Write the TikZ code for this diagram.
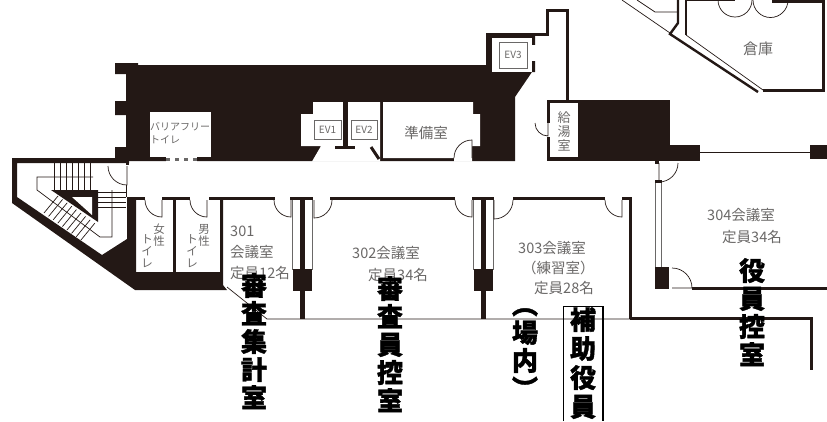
\documentclass[tikz,border=0pt]{standalone}
\usepackage{fontspec}
\newfontfamily\jpfont{Noto Sans CJK JP}
\newfontfamily\heavyfont[BoldFeatures={FakeBold=1.4}]{Noto Sans CJK JP}
\definecolor{planblack}{HTML}{231815}
\definecolor{plangray}{HTML}{6A6867}
\tikzset{wallfill/.style={fill=planblack,draw=none}}
\tikzset{wallline/.style={draw=planblack,line width=3pt}}
\tikzset{thinline/.style={draw=planblack,line width=0.7pt}}
\tikzset{grayline/.style={draw=plangray,line width=0.9pt}}
\tikzset{roomtext/.style={text=plangray,inner sep=0pt,font=\jpfont\fontsize{14.5}{21}\selectfont,align=left}}
\tikzset{smalltext/.style={text=plangray,inner sep=0pt,font=\jpfont\fontsize{10}{13}\selectfont,align=center}}
\tikzset{toilettext/.style={text=plangray,inner sep=0pt,anchor=north,align=center,font=\jpfont\fontsize{11.5}{12}\selectfont}}
\tikzset{evbox/.style={draw=plangray,fill=white,line width=0.9pt,text=plangray,inner sep=0pt,font=\jpfont\fontsize{10}{12}\selectfont}}
\tikzset{tatetext/.style={text=black,inner sep=0pt,anchor=north,align=center,font=\heavyfont\bfseries\fontsize{26}{28}\selectfont}}
\begin{document}
\begin{tikzpicture}[x=1pt,y=-1pt]
            \useasboundingbox (0,0) rectangle (827,421);
            % setup the black masses
            \fill[wallfill] (115,63) -- (138,63) -- (138,65) -- (486,65) -- (486,33) -- (535,33) -- (535,72) -- (532,72)
                -- (515,97) -- (515,161) -- (115,161) -- (115,147) -- (126,147) -- (126,115) -- (115,115) -- (115,101)
                -- (126,101) -- (126,74) -- (115,74) -- cycle;
            \fill[wallfill] (547,100) rectangle (670,161);
            \fill[wallfill] (670,145) rectangle (700,161);
            \fill[wallfill] (810,145) rectangle (827,159);
            \fill[wallfill] (12,158) -- (129,158) -- (129,163) -- (17,163) -- (17,197) -- (102,255) -- (127,239) -- (127,197)
                -- (136,197) -- (136,272) -- (220,272) -- (220,200) -- (223,200) -- (223,285) -- (227,290) -- (135,290)
                -- (12,203) -- cycle;
            % cut the rooms out of them
            \fill[white] (150,112) rectangle (211,157);
            \fill[white] (166,157) rectangle (197,161.5);
            \foreach \x in {166,175,184,193}
            {
                \fill[plangray] (\x,158) rectangle ++(4,3);
            }
            \fill[white] (301,146) -- (301,114) -- (313,114) -- (313,102) -- (380,102) -- (380,161.5) -- (312,161.5) -- (321,146) -- cycle;
            \fill[white] (383,102) -- (473,102) -- (473,114) -- (480,114) -- (480,146) -- (472,146) -- (472,161.5) -- (454,161.5) -- (454,158) -- (383,158) -- cycle;
            \fill[white] (492,38) rectangle (532,72);
            \fill[white] (532,45) rectangle (536,61);
            \fill[white] (550,103) rectangle (578,157);
            \fill[white] (546,123) rectangle (551,137);
            % lift shafts
            \fill[wallfill] (343,102) rectangle (348,146);
            \fill[wallfill] (335,146) rectangle (355,149);
            \draw[wallline] (371,147) -- (379,159);
            \node[evbox,minimum width=27pt,minimum height=19pt] (ev1) at (327.5,129.5) {EV1};
            \node[evbox,minimum width=26pt,minimum height=19pt] (ev2) at (364,129.5) {EV2};
            \node[evbox,minimum width=28pt,minimum height=26pt] (ev3) at (513,55) {EV3};
            % outer walls
            \draw[wallline] (486,34) -- (547,34) -- (547,10) -- (567,10) -- (567,100);
            \draw[planblack,line width=1pt] (700,152) -- (810,152);
            \fill[wallfill] (126,161) rectangle (129,165);
            % corridor walls
            \foreach \ax/\bx in {127/145,162/190,209/275,290/313,330/455,472/494,513/605,622/632}
            {
                \draw[wallline] (\ax,198.5) -- (\bx,198.5);
            }
            \draw[wallline] (174.5,200) -- (174.5,272);
            \draw[wallline] (630,197) -- (630,319);
            \draw[wallline] (630,318.5) -- (811.5,318.5) -- (811.5,370);
            \draw[wallline] (692,288.5) -- (827,288.5);
            \draw[thinline] (227,287) -- (267,319) -- (630,319);
            % partitions between the rooms
            \foreach \px in {0,181}
            {
                \draw[grayline] (292+\px,200) -- (292+\px,270);
                \draw[grayline] (312+\px,200) -- (312+\px,270);
                \draw[planblack,line width=4.5pt] (302.5+\px,197) -- (302.5+\px,319);
                \fill[wallfill] (293+\px,269) rectangle (312+\px,291);
            }
            \draw[grayline] (655.5,182) -- (655.5,269);
            \draw[grayline] (661.5,182) -- (661.5,269);
            \fill[wallfill] (655,180) rectangle (662,183);
            \fill[wallfill] (655,267) rectangle (669,289);
            \fill[wallfill] (655,160) rectangle (659,164);
            % doors
            \foreach \sx/\sy/\sa/\ea/\r/\hx/\hy in {145/200/180/90/17/162/200,190/200/180/90/17/207/200,274/200/180/90/17/291/200,
                332/200/0/90/18/314/200,455/200/180/90/17/472/200,513/200/0/90/19/494/200,605/200/180/90/17/622/200,
                454/158/180/270/18/472/158,108/166/180/90/19/127/166,535/123/180/90/13/548/123,678/163/0/90/19/659/163,672/268/270/360/20/672/288}
            {
                \draw[thinline] (\sx,\sy) arc[start angle=\sa,end angle=\ea,radius=\r] -- (\hx,\hy);
            }
            % staircase
            \fill[wallfill] (51,190) -- (98,190) -- (98,222) -- cycle;
            \fill[white] (72,197) -- (92,197) -- (92,215) -- cycle;
            \foreach \x in {54,60,...,93}
            {
                \draw[thinline] (\x,163) -- (\x,190);
            }
            \foreach \y in {192,197,202,207}
            {
                \draw[thinline] (98,\y) -- (126,\y);
            }
            \foreach \i in {0,...,8}
            {
                \draw[thinline] (58+\i*4.6,196+\i*3.4) -- (44+\i*4.6,213+\i*3.4);
            }
            \draw[thinline] (93,177) -- (37,177) -- (37,190) -- (100,237) -- (112,237) -- (112,190);
            \draw[thinline] (126,185) -- (126,197);
            % store room at the top
            \draw[wallline] (772,1) -- (823.5,1) -- (823.5,90.5) -- (763,90.5);
            \draw[planblack,line width=2.4pt] (686,0) -- (686,35);
            \draw[planblack,line width=1.5pt] (686,0.7) -- (735,0.7);
            \draw[planblack,line width=2.4pt] (678,0) -- (678,23) -- (670,34) -- (758,92);
            \draw[thinline] (686,35) -- (763,90);
            \draw[thinline] (622,0) -- (670,33);
            \draw[thinline] (637,0) -- (655,12) -- (678,12);
            \draw[thinline] (718,0) arc[start angle=180,end angle=0,radius=17];
            \draw[thinline] (753,0) arc[start angle=180,end angle=0,radius=17.5];
            % room names
            \node[smalltext,anchor=north west,align=left] (barrierfree) at (150,122) {バリアフリー\\トイレ};
            \node[roomtext] (junbi) at (426,133) {準備室};
            \node[roomtext,anchor=north,font=\jpfont\fontsize{13}{14}\selectfont,align=center] (kyuto) at (564,111) {給\\湯\\室};
            \node[roomtext,font=\jpfont\fontsize{15}{15}\selectfont] (soko) at (758,49) {倉庫};
            \node[toilettext] (women) at (159,224) {女\\性};
            \node[toilettext] (womenwc) at (147,234) {ト\\イ\\レ};
            \node[toilettext] (men) at (204,224) {男\\性};
            \node[toilettext] (menwc) at (192,234) {ト\\イ\\レ};
            \node[roomtext,anchor=north west] (room301) at (230,226) {301\\会議室\\定員12名};
            \node[roomtext,anchor=west] (room302) at (352,253) {302会議室};
            \node[roomtext,anchor=west] (seat302) at (368,275) {定員34名};
            \node[roomtext,anchor=west] (room303) at (518,248) {303会議室};
            \node[roomtext,anchor=west] (name303) at (522,268) {（練習室）};
            \node[roomtext,anchor=west] (seat303) at (534,288) {定員28名};
            \node[roomtext,anchor=west] (room304) at (707,215) {304会議室};
            \node[roomtext,anchor=west] (seat304) at (722,237) {定員34名};
            % big vertical labels
            \node[tatetext] (syukei) at (254,273) {審\\査\\集\\計\\室};
            \node[tatetext] (shinsain) at (390,276) {審\\査\\員\\控\\室};
            \node[tatetext] (jounai) at (525,308) {︵\\場\\内\\︶};
            \node[tatetext,font=\heavyfont\bfseries\fontsize{26}{29}\selectfont] (hojo) at (583,307) {補\\助\\役\\員};
            \node[tatetext] (yakuin) at (752,258) {役\\員\\控\\室};
            \draw[black,line width=1.5pt] (563.5,421) |- (603,306.5) -- (603,421);
\end{tikzpicture}
\end{document}
